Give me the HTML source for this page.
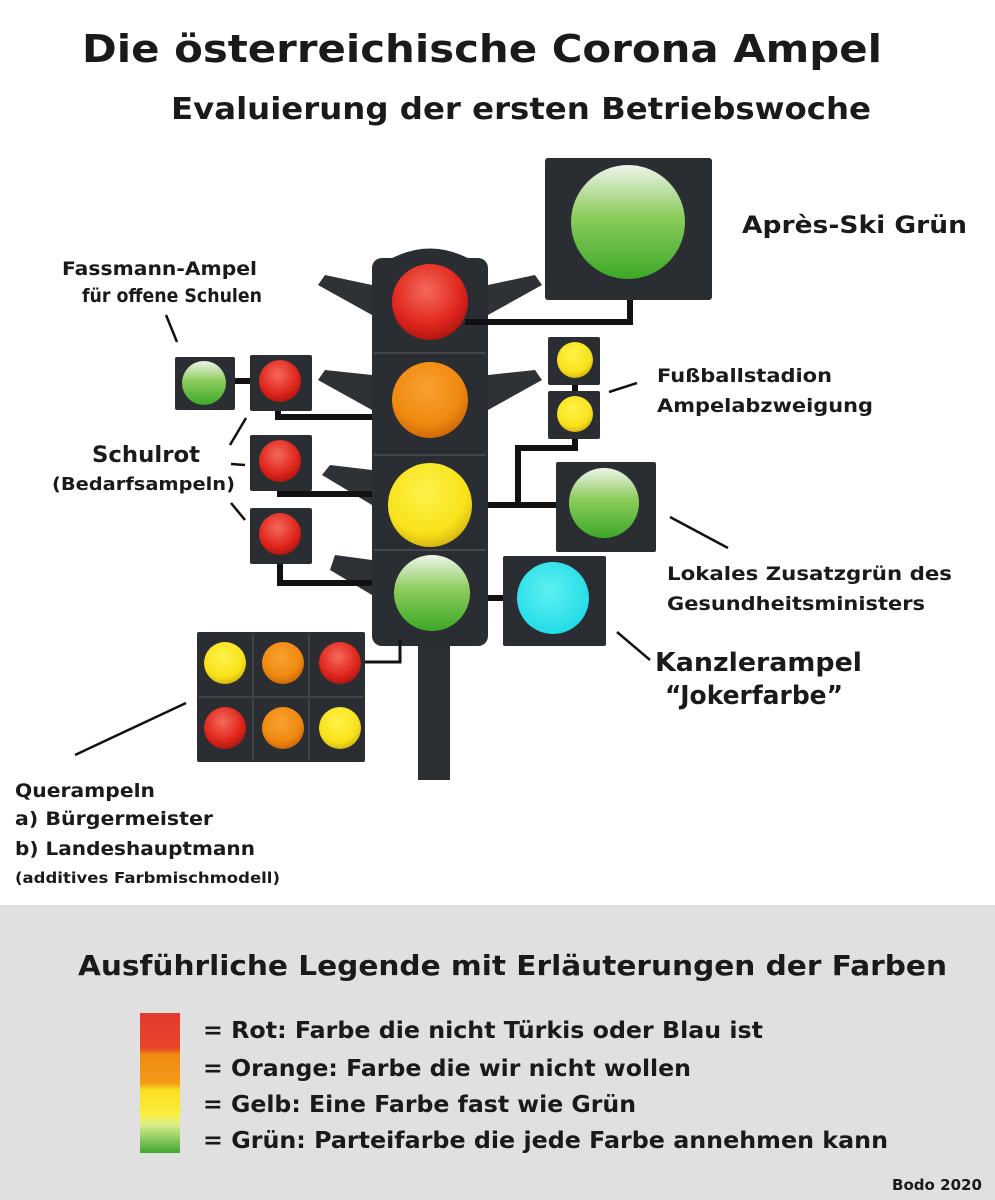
<!DOCTYPE html>
<html><head><meta charset="utf-8"><style>
html,body{margin:0;padding:0;background:#fff;width:995px;height:1200px;overflow:hidden}
svg{display:block}
text{font-family:"DejaVu Sans","Liberation Sans",sans-serif;fill:#1a1a1a;font-weight:bold}
</style></head><body>
<svg width="995" height="1200" viewBox="0 0 995 1200" xmlns="http://www.w3.org/2000/svg">
<defs>
<radialGradient id="r" cx="45%" cy="35%" r="65%"><stop offset="0" stop-color="#f46a5c"/><stop offset="0.7" stop-color="#e0261c"/><stop offset="1" stop-color="#b01812"/></radialGradient>
<radialGradient id="o" cx="45%" cy="35%" r="65%"><stop offset="0" stop-color="#f9a030"/><stop offset="0.7" stop-color="#f08a10"/><stop offset="1" stop-color="#d06a08"/></radialGradient>
<radialGradient id="y" cx="45%" cy="35%" r="65%"><stop offset="0" stop-color="#fff24a"/><stop offset="0.75" stop-color="#f8e21a"/><stop offset="1" stop-color="#d8b810"/></radialGradient>
<linearGradient id="g" x1="0" y1="0" x2="0" y2="1"><stop offset="0" stop-color="#eef4ea"/><stop offset="0.45" stop-color="#8ccc5c"/><stop offset="1" stop-color="#3ca828"/></linearGradient>
<radialGradient id="c" cx="45%" cy="40%" r="60%"><stop offset="0" stop-color="#5ff0f0"/><stop offset="1" stop-color="#22dce8"/></radialGradient>
<linearGradient id="sw" x1="0" y1="0" x2="0" y2="1">
<stop offset="0" stop-color="#e23a2e"/><stop offset="0.25" stop-color="#e8452a"/><stop offset="0.3" stop-color="#f08a12"/><stop offset="0.5" stop-color="#f59a18"/><stop offset="0.55" stop-color="#f8e020"/><stop offset="0.72" stop-color="#fbee3c"/><stop offset="0.8" stop-color="#d8ec8a"/><stop offset="1" stop-color="#40a830"/></linearGradient>
</defs>

<text x="482" y="62" font-size="38" text-anchor="middle" textLength="800" lengthAdjust="spacingAndGlyphs">Die österreichische Corona Ampel</text>
<text x="521" y="119" font-size="30" text-anchor="middle" textLength="700" lengthAdjust="spacingAndGlyphs" fill="#222">Evaluierung der ersten Betriebswoche</text>

<rect x="418" y="640" width="32" height="140" fill="#2c2f33"/>
<g fill="#2e3135">
<path d="M372 285 L325 275 L318 285 L372 315Z"/><path d="M488 285 L535 275 L542 285 L488 315Z"/>
<path d="M372 375 L325 370 L318 380 L372 410Z"/><path d="M488 375 L535 370 L542 380 L488 410Z"/>
<path d="M372 470 L330 465 L322 475 L372 505Z"/>
<path d="M372 560 L335 555 L330 570 L372 595Z"/>
</g>
<rect x="372" y="258" width="116" height="388" rx="10" fill="#2a2d31"/>
<path d="M385 262 Q430 235 475 262Z" fill="#2a2d31"/>
<g stroke="#44484d" stroke-width="2" fill="none">
<line x1="374" y1="353" x2="486" y2="353"/><line x1="374" y1="455" x2="486" y2="455"/><line x1="374" y1="550" x2="486" y2="550"/>
</g>
<circle cx="430" cy="302" r="38" fill="url(#r)"/>
<circle cx="430" cy="400" r="38" fill="url(#o)"/>
<circle cx="430" cy="505" r="42" fill="url(#y)"/>
<circle cx="432" cy="593" r="38" fill="url(#g)"/>

<g stroke="#111" stroke-width="6" fill="none">
<polyline points="465,322 630,322 630,298"/>
<line x1="232" y1="381" x2="252" y2="381"/>
<polyline points="278,408 278,417 372,417"/>
<polyline points="280,488 280,494 372,494"/>
<polyline points="280,560 280,583 372,583"/>
<line x1="575" y1="383" x2="575" y2="393"/>
<polyline points="575,435 575,448 518,448 518,502"/>
<line x1="488" y1="505" x2="557" y2="505"/>
<line x1="488" y1="598" x2="505" y2="598"/>
<polyline points="400,640 400,662 365,662" stroke-width="3"/>
</g>

<g fill="#2a2d31">
<rect x="545" y="158" width="167" height="142" rx="3"/>
<rect x="175" y="357" width="60" height="53" rx="2"/>
<rect x="250" y="355" width="62" height="56" rx="2"/>
<rect x="250" y="435" width="62" height="56" rx="2"/>
<rect x="250" y="508" width="62" height="56" rx="2"/>
<rect x="548" y="337" width="52" height="48" rx="2"/>
<rect x="548" y="391" width="52" height="48" rx="2"/>
<rect x="556" y="462" width="100" height="90" rx="2"/>
<rect x="503" y="556" width="103" height="90" rx="2"/>
<rect x="197" y="632" width="168" height="130" rx="2"/>
</g>
<g stroke="#3f4348" stroke-width="2"><line x1="253" y1="634" x2="253" y2="760"/><line x1="309" y1="634" x2="309" y2="760"/><line x1="199" y1="697" x2="363" y2="697"/></g>
<circle cx="628" cy="222" r="57" fill="url(#g)"/>
<circle cx="204" cy="383" r="22" fill="url(#g)"/>
<circle cx="280" cy="381" r="21" fill="url(#r)"/>
<circle cx="280" cy="461" r="21" fill="url(#r)"/>
<circle cx="280" cy="534" r="21" fill="url(#r)"/>
<circle cx="575" cy="360" r="18" fill="url(#y)"/>
<circle cx="575" cy="414" r="18" fill="url(#y)"/>
<circle cx="604" cy="503" r="35" fill="url(#g)"/>
<circle cx="553" cy="598" r="36" fill="url(#c)"/>
<circle cx="225" cy="663" r="21" fill="url(#y)"/>
<circle cx="283" cy="663" r="21" fill="url(#o)"/>
<circle cx="340" cy="663" r="21" fill="url(#r)"/>
<circle cx="225" cy="728" r="21" fill="url(#r)"/>
<circle cx="283" cy="728" r="21" fill="url(#o)"/>
<circle cx="340" cy="728" r="21" fill="url(#y)"/>

<g stroke="#111" stroke-width="2.5">
<line x1="166" y1="315" x2="177" y2="342"/>
<line x1="246" y1="418" x2="230" y2="445"/>
<line x1="231" y1="464" x2="245" y2="465"/>
<line x1="231" y1="503" x2="245" y2="520"/>
<line x1="609" y1="392" x2="637" y2="383"/>
<line x1="670" y1="517" x2="728" y2="548"/>
<line x1="617" y1="632" x2="650" y2="660"/>
<line x1="75" y1="755" x2="186" y2="703"/>
</g>

<g font-size="19">
<text x="62" y="275" textLength="195" lengthAdjust="spacingAndGlyphs">Fassmann-Ampel</text>
<text x="82" y="302" textLength="180" lengthAdjust="spacingAndGlyphs">für offene Schulen</text>
<text x="657" y="382" textLength="175" lengthAdjust="spacingAndGlyphs">Fußballstadion</text>
<text x="657" y="412" textLength="216" lengthAdjust="spacingAndGlyphs">Ampelabzweigung</text>
<text x="667" y="580" textLength="285" lengthAdjust="spacingAndGlyphs">Lokales Zusatzgrün des</text>
<text x="667" y="610" textLength="258" lengthAdjust="spacingAndGlyphs">Gesundheitsministers</text>
<text x="15" y="797" textLength="140" lengthAdjust="spacingAndGlyphs">Querampeln</text>
<text x="15" y="825" textLength="198" lengthAdjust="spacingAndGlyphs">a) Bürgermeister</text>
<text x="15" y="855" textLength="240" lengthAdjust="spacingAndGlyphs">b) Landeshauptmann</text>
</g>
<text x="15" y="883" font-size="15" textLength="265" lengthAdjust="spacingAndGlyphs">(additives Farbmischmodell)</text>
<text x="742" y="233" font-size="24" textLength="225" lengthAdjust="spacingAndGlyphs">Après-Ski Grün</text>
<text x="92" y="462" font-size="22" textLength="108" lengthAdjust="spacingAndGlyphs">Schulrot</text>
<text x="52" y="490" font-size="18" textLength="183" lengthAdjust="spacingAndGlyphs">(Bedarfsampeln)</text>
<text x="655" y="671" font-size="26" textLength="207" lengthAdjust="spacingAndGlyphs">Kanzlerampel</text>
<text x="665" y="704" font-size="26" textLength="178" lengthAdjust="spacingAndGlyphs">“Jokerfarbe”</text>

<rect x="0" y="905" width="995" height="295" fill="#e0e0e0"/>
<text x="78" y="975" font-size="28" textLength="869" lengthAdjust="spacingAndGlyphs">Ausführliche Legende mit Erläuterungen der Farben</text>
<rect x="140" y="1013" width="40" height="140" fill="url(#sw)"/>
<g font-size="23">
<text x="203" y="1038" textLength="560" lengthAdjust="spacingAndGlyphs">= Rot: Farbe die nicht Türkis oder Blau ist</text>
<text x="203" y="1076" textLength="488" lengthAdjust="spacingAndGlyphs">= Orange: Farbe die wir nicht wollen</text>
<text x="203" y="1112" textLength="433" lengthAdjust="spacingAndGlyphs">= Gelb: Eine Farbe fast wie Grün</text>
<text x="203" y="1148" textLength="685" lengthAdjust="spacingAndGlyphs">= Grün: Parteifarbe die jede Farbe annehmen kann</text>
</g>
<text x="892" y="1190" font-size="15" textLength="90" lengthAdjust="spacingAndGlyphs">Bodo 2020</text>
</svg>
</body></html>
